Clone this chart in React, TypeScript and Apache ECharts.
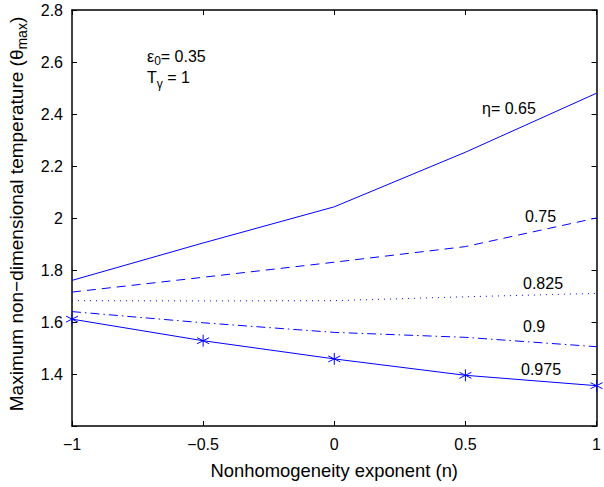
import React, { useEffect, useRef } from "react";
import * as echarts from "echarts";

const nValues = [-1, -0.5, 0, 0.5, 1];
const eta065 = [1.76, 1.904, 2.043, 2.253, 2.48];
const eta075 = [1.715, 1.772, 1.83, 1.89, 2.0];
const eta0825 = [1.682, 1.681, 1.682, 1.697, 1.71];
const eta09 = [1.64, 1.597, 1.56, 1.541, 1.505];
const eta0975 = [1.611, 1.528, 1.458, 1.395, 1.355];
const xTicks = [-1, -0.5, 0, 0.5, 1];
const yTicks = [1.4, 1.6, 1.8, 2, 2.2, 2.4, 2.6, 2.8];

const BLUE = "#0000ff";
const FONT = "Liberation Sans";
const ASTERISK = "path://M0,-5L0,5M-4.33,-2.5L4.33,2.5M-4.33,2.5L4.33,-2.5";

function pairs(ys: number[]) {
  return nValues.map((x, i) => [x, ys[i]]);
}

const fmtNum = (v: number) => {
  const s = String(Math.round(v * 100) / 100);
  return s.replace("-", "\u2212");
};

export default function App() {
  const ref = useRef<HTMLDivElement>(null);
  useEffect(() => {
    if (!ref.current) return;
    const chart = echarts.init(ref.current, undefined, { renderer: "svg" });
    const axisCommon = {
      axisLine: { show: true, onZero: false, lineStyle: { color: "#000", width: 1.5 } },
      axisTick: { show: true, inside: true, length: 5, lineStyle: { color: "#000", width: 1 } },
      splitLine: { show: false },
    };
    const lineSeries = (ys: number[], type: any, extra: any = {}) => ({
      type: "line",
      data: pairs(ys),
      showSymbol: false,
      symbol: "none",
      lineStyle: { color: BLUE, width: 1, type },
      ...extra,
    });
    const label = (text: string, x: number, y: number) => ({
      type: "text",
      x,
      y,
      style: { text, verticalAlign: "middle", fontFamily: FONT, fontSize: 16, fill: "#000" },
    });
    chart.setOption({
      animation: false,
      grid: { left: 72, right: 2, top: 10, bottom: 61 },
      xAxis: [
        {
          type: "value",
          min: -1,
          max: 1,
          interval: 0.5,
          ...axisCommon,
          axisLabel: {
            color: "#000",
            fontFamily: FONT,
            fontSize: 16,
            margin: 10,
            formatter: (v: number) => (xTicks.includes(v) ? fmtNum(v) : ""),
          },
          name: "Nonhomogeneity exponent (n)",
          nameLocation: "middle",
          nameGap: 35,
          nameTextStyle: { color: "#000", fontFamily: FONT, fontSize: 18.4 },
        },
        {
          type: "value",
          position: "top",
          min: -1,
          max: 1,
          interval: 0.5,
          ...axisCommon,
          axisLabel: { show: false },
        },
      ],
      yAxis: [
        {
          type: "value",
          min: 1.2,
          max: 2.8,
          interval: 0.2,
          ...axisCommon,
          axisLabel: {
            color: "#000",
            fontFamily: FONT,
            fontSize: 16,
            margin: 9,
            formatter: (v: number) => {
              const r = Math.round(v * 10) / 10;
              return yTicks.some((t) => Math.abs(t - r) < 1e-6) ? fmtNum(r) : "";
            },
          },
        },
        {
          type: "value",
          position: "right",
          min: 1.2,
          max: 2.8,
          interval: 0.2,
          ...axisCommon,
          axisLabel: { show: false },
        },
      ],
      series: [
        lineSeries(eta065, "solid"),
        lineSeries(eta075, [9, 6]),
        lineSeries(eta0825, [1, 5]),
        lineSeries(eta09, [9, 4, 1.5, 4]),
        lineSeries(eta0975, "solid", {
          showSymbol: true,
          symbol: ASTERISK,
          symbolSize: 12,
          itemStyle: { color: "rgba(0,0,0,0)", borderColor: BLUE, borderWidth: 1 },
        }),
      ],
      graphic: [
        {
          type: "text",
          x: 16,
          y: 214,
          rotation: Math.PI / 2,
          style: {
            text: "Maximum non\u2212dimensional temperature (\u03b8{sub|max})",
            align: "center",
            verticalAlign: "middle",
            fontFamily: FONT,
            fontSize: 19,
            fill: "#000",
            rich: {
              sub: { fontFamily: FONT, fontSize: 14, fill: "#000", padding: [12, 0, 0, 0], verticalAlign: "bottom" },
            },
          },
        },
        {
          type: "text",
          x: 147,
          y: 56,
          style: {
            text: "\u03b5{sub|0}= 0.35",
            verticalAlign: "middle",
            fontFamily: FONT,
            fontSize: 16,
            fill: "#000",
            rich: {
              sub: { fontFamily: FONT, fontSize: 12, fill: "#000", padding: [10, 0, 0, 0], verticalAlign: "bottom" },
            },
          },
        },
        {
          type: "text",
          x: 147,
          y: 77,
          style: {
            text: "T{sub|\u03b3} = 1",
            verticalAlign: "middle",
            fontFamily: FONT,
            fontSize: 16,
            fill: "#000",
            rich: {
              sub: { fontFamily: FONT, fontSize: 12, fill: "#000", padding: [14, 0, 0, 0], verticalAlign: "bottom" },
            },
          },
        },
        label("\u03b7= 0.65", 482, 108),
        label("0.75", 525, 216),
        label("0.825", 523, 283),
        label("0.9", 523, 326),
        label("0.975", 521, 369),
      ],
    });
    return () => chart.dispose();
  }, []);
  return <div ref={ref} style={{ width: 604, height: 487, position: "absolute", left: 0, top: 0 }} />;
}
